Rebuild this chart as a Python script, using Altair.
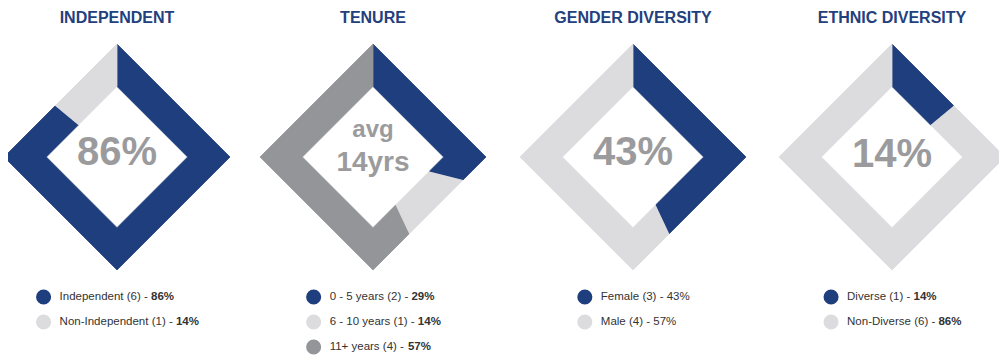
import altair as alt
import numpy as np
import pandas as pd

# ---------------- data ----------------
titles = ["INDEPENDENT", "TENURE", "GENDER DIVERSITY", "ETHNIC DIVERSITY"]
center_labels = [["86%"], ["avg", "14yrs"], ["43%"], ["14%"]]
categories = [
    ["Independent", "Non-Independent"],
    ["0 - 5 years", "6 - 10 years", "11+ years"],
    ["Female", "Male"],
    ["Diverse", "Non-Diverse"],
]
counts = [[6, 1], [2, 1, 4], [3, 4], [1, 6]]
percents = [[86, 14], [29, 14, 57], [43, 57], [14, 86]]
bold_pct = [True, True, False, True]

# ---------------- styles / layout ----------------
BLUE, LIGHT, DARK = "#1f3e7d", "#dcdcdf", "#939598"
palettes = [[BLUE, LIGHT], [BLUE, LIGHT, DARK], [BLUE, LIGHT], [BLUE, LIGHT]]
TITLE_COLOR = "#23407d"
CENTER_COLOR = "#9b9b9d"
LEGEND_COLOR = "#333333"
FONT = "Liberation Sans"

W, H = 991, 347          # plot area (px)
PX = 113.0               # px per unit (outer half-diagonal of a diamond)
CENTERS_PX = [109, 365, 625, 884]
CY_PX = 149
R_IN = 0.625
CENTER_SIZES = [[40], [24, 28], [40], [40]]
CENTER_DY = [[-4], [-27, 6], [-4], [-2]]
LEG_Y0, LEG_STEP, LEG_FS = 289, 25, 11.5
CIRCLE_R, TEXT_GAP = 8.5, 16

# Arial (Liberation Sans) advance widths per 1000 em
REG = {" ": 278, "(": 333, ")": 333, "-": 333, "+": 584, "%": 889,
       "a": 556, "d": 556, "e": 556, "i": 222, "l": 222, "m": 833, "n": 556,
       "o": 556, "p": 556, "r": 333, "s": 500, "t": 278, "v": 500, "y": 500,
       "D": 722, "F": 611, "I": 278, "M": 833, "N": 722}
BOLD = {"%": 889}


def text_w(s, table, fs):
    return sum(table.get(ch, 556) for ch in s) * fs / 1000.0


def ux(px):
    return px / PX


def uy(py):
    return (CY_PX - py) / PX


def rim(theta, R):
    s, c = np.sin(theta), np.cos(theta)
    r = R / (abs(s) + abs(c))
    return r * s, r * c


def seg_polygon(f0, f1):
    t0, t1 = 2 * np.pi * f0, 2 * np.pi * f1
    corners = [k * np.pi / 2 for k in range(5) if t0 + 1e-9 < k * np.pi / 2 < t1 - 1e-9]
    angs = [t0] + corners + [t1]
    return [rim(a, 1.0) for a in angs] + [rim(a, R_IN) for a in reversed(angs)]


poly_rows, center_rows, title_rows, leg_rows = [], [], [], []
for p in range(len(titles)):
    cx = ux(CENTERS_PX[p])
    title_rows.append(dict(x=cx, text=titles[p]))
    cum = 0
    for i, v in enumerate(percents[p]):
        f0 = cum / 100.0
        cum += v
        f1 = cum / 100.0
        for k, (x, y) in enumerate(seg_polygon(f0, f1)):
            poly_rows.append(dict(seg=f"{p}-{i}", x=cx + x, y=y, k=k, color=palettes[p][i]))
    for j, lab in enumerate(center_labels[p]):
        center_rows.append(dict(x=cx, y=uy(CY_PX + CENTER_DY[p][j]), text=lab, fs=CENTER_SIZES[p][j]))
    norm, bold = [], []
    for i, cat in enumerate(categories[p]):
        base = f"{cat} ({counts[p][i]}) - "
        pct = f"{percents[p][i]}%"
        if bold_pct[p]:
            norm.append(base)
            bold.append(pct)
        else:
            norm.append(base + pct)
            bold.append("")
    maxw = max(text_w(n, REG, LEG_FS) + text_w(b, BOLD, LEG_FS) for n, b in zip(norm, bold))
    circ_off = -(TEXT_GAP + maxw - CIRCLE_R) / 2.0
    for i in range(len(categories[p])):
        cpx = CENTERS_PX[p] + circ_off
        leg_rows.append(dict(
            cx=ux(cpx), y=uy(LEG_Y0 + i * LEG_STEP),
            tx=ux(cpx + TEXT_GAP), bx=ux(cpx + TEXT_GAP + text_w(norm[i], REG, LEG_FS)),
            tnorm=norm[i], tbold=bold[i], color=palettes[p][i]))

polys = pd.DataFrame(poly_rows)
centers = pd.DataFrame(center_rows)
heads = pd.DataFrame(title_rows)
legend = pd.DataFrame(leg_rows)

xs = alt.Scale(domain=[0, W / PX], nice=False, zero=False)
ys = alt.Scale(domain=[uy(H), uy(0)], nice=False, zero=False)

diamonds = alt.Chart(polys).mark_line(strokeWidth=0.8, strokeJoin="miter").encode(
    x=alt.X("x:Q", scale=xs, axis=None),
    y=alt.Y("y:Q", scale=ys, axis=None),
    order="k:Q",
    detail="seg:N",
    fill=alt.Fill("color:N", scale=None),
    stroke=alt.Stroke("color:N", scale=None),
)

title_layer = alt.Chart(heads).mark_text(
    font=FONT, fontSize=16, fontWeight="bold", color=TITLE_COLOR, baseline="middle", align="center"
).encode(x=alt.X("x:Q", scale=xs, axis=None), y=alt.value(10), text="text:N")

center_layer = alt.Chart(centers).mark_text(
    font=FONT, fontWeight="bold", color=CENTER_COLOR, baseline="middle", align="center"
).encode(
    x=alt.X("x:Q", scale=xs, axis=None),
    y=alt.Y("y:Q", scale=ys, axis=None),
    text="text:N",
    size=alt.Size("fs:Q", scale=None),
)

leg_dots = alt.Chart(legend).mark_point(
    filled=True, shape="circle", size=np.pi * CIRCLE_R ** 2, opacity=1
).encode(
    x=alt.X("cx:Q", scale=xs, axis=None),
    y=alt.Y("y:Q", scale=ys, axis=None),
    color=alt.Color("color:N", scale=None),
)

leg_text = alt.Chart(legend).mark_text(
    font=FONT, fontSize=LEG_FS, color=LEGEND_COLOR, align="left", baseline="middle"
).encode(
    x=alt.X("tx:Q", scale=xs, axis=None),
    y=alt.Y("y:Q", scale=ys, axis=None),
    text="tnorm:N",
)

leg_bold = alt.Chart(legend).mark_text(
    font=FONT, fontSize=LEG_FS, fontWeight="bold", color=LEGEND_COLOR, align="left", baseline="middle"
).encode(
    x=alt.X("bx:Q", scale=xs, axis=None),
    y=alt.Y("y:Q", scale=ys, axis=None),
    text="tbold:N",
)

chart = alt.layer(diamonds, title_layer, center_layer, leg_dots, leg_text, leg_bold).properties(
    width=W, height=H, padding=0, autosize=alt.AutoSizeParams(type="none"), background="white"
).configure_view(stroke=None)

chart.save("out.html", embed_options={"renderer": "svg", "actions": False})
